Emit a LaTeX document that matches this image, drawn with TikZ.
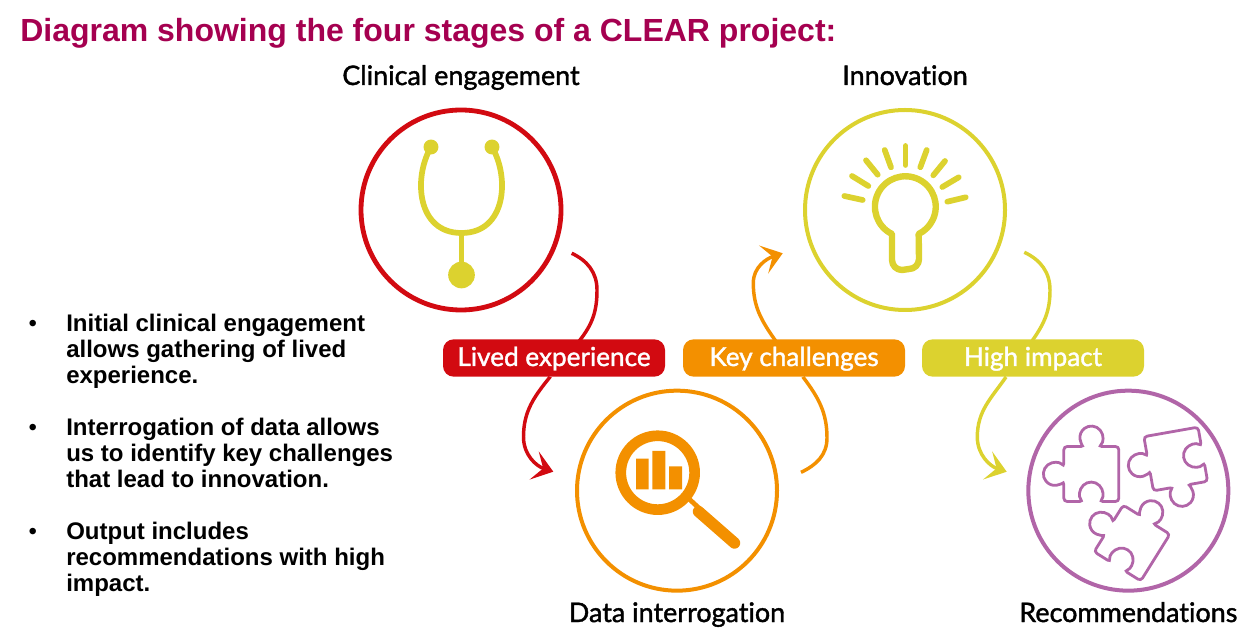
\documentclass[tikz,border=0pt]{standalone}
\usepackage{fontspec}
\setmainfont{Liberation Sans}
\newfontfamily\labelfont[FakeBold=1.5,Ligatures=NoCommon]{Lato}
\usetikzlibrary{arrows.meta,positioning,backgrounds}
\definecolor{cred}{HTML}{D20A11}
\definecolor{corange}{HTML}{F39000}
\definecolor{cyellow}{HTML}{DCD22F}
\definecolor{cpurple}{HTML}{B165A8}
\definecolor{ctitle}{HTML}{A50050}
\tikzset{>=latex}

\begin{document}
\begin{tikzpicture}[x=0.75pt,y=0.75pt,on grid,
	stage/.style={circle, draw, line width=3pt, minimum size=150pt, inner sep=0pt},
	stagename/.style={font=\labelfont\fontsize{20.2}{22}\selectfont, inner sep=0pt},
	pill/.style={rounded corners=8pt, minimum width=166.5pt, minimum height=28pt, inner sep=0pt, text=white, text height=12pt, text depth=0pt, font=\labelfont\fontsize{19.6}{22}\selectfont},
	flow/.style={line width=2.6pt, -{Stealth[length=15pt,width=22pt,inset=7pt]}},
	icon/.style={line width=4.3pt, line cap=round, draw=cyellow},
	bullettext/.style={font=\bfseries\fontsize{18}{19.5}\selectfont, align=left, anchor=north west, inner sep=0pt},
	pics/piece/.style={code={
		\draw[line width=2.1pt, draw=cpurple, rounded corners=2.5pt]
			(27.5,-27.5) -- (27.5,27.5) -- (7.2,27.5)
			arc[start angle=-51.5, end angle=231.5, radius=8.6pt]
			-- (-27.5,27.5) -- (-27.5,7.2)
			arc[start angle=38.5, end angle=321.5, radius=8.6pt]
			-- (-27.5,-27.5) -- (-8.3,-27.5)
			arc[start angle=224, end angle=-44, radius=8.6pt]
			-- cycle;
	}}]
	\useasboundingbox (0,0) rectangle (1237,628);

	\node[anchor=base west, inner sep=0pt, text=ctitle, font=\bfseries\fontsize{24}{26}\selectfont] (title) at (20,586) {Diagram showing the four stages of a CLEAR project:};

	% the four stages
	\node[stage, draw=cred, line width=3.6pt] (clinical) at (461,418) {};
	\node[stage, draw=cyellow] (innovation) [right=333pt of clinical] {};
	\node[stage, draw=corange] (data) [below right=210.5pt and 162pt of clinical] {};
	\node[stage, draw=cpurple] (recommend) [right=338.5pt of data] {};

	\node[stagename] (clinicalname) [above=93.75pt of clinical, anchor=base] {Clinical engagement};
	\node[stagename] (innovationname) [above=93.75pt of innovation, anchor=base] {Innovation};
	\node[stagename] (dataname) [below=98.5pt of data, anchor=base] {Data interrogation};
	\node[stagename] (recommendname) [below=98.5pt of recommend, anchor=base] {Recommendations};

	\node[pill, fill=cred] (lived) at (554,270) {Lived experience};
	\node[pill, fill=corange] (challenges) at (794,270) {Key challenges};
	\node[pill, fill=cyellow] (impact) at (1033,270) {High impact};

	% stethoscope
	\coordinate (earl) at (431,481);
	\coordinate (earr) at (492,481);
	\coordinate (bowl) at (461.5,395);
	\coordinate (chest) at (461.5,353);
	\draw[icon, line cap=butt] (earl) .. controls (413,450) and (417,395) .. (bowl) .. controls (506,395) and (510,450) .. (earr);
	\draw[icon, line cap=butt] (bowl) -- (chest);
	\fill[cyellow] (earl) circle (5.6pt) (earr) circle (5.6pt) (chest) circle (10pt);

	% bulb
	\draw[icon, line width=4.8pt, line cap=butt, line join=round]
		(892,394) arc[start angle=244, end angle=-64, radius=22.8pt]
		-- (919,369) arc[start angle=0, end angle=-90, radius=7.5pt] -- (902,358) arc[start angle=-90, end angle=-180, radius=7.5pt] -- cycle;
	\foreach \xa/\ya/\xb/\yb in {905.5/482/905.5/463, 884.7/478/891/460.7, 926.7/478/920.3/460.7, 866/467.7/877.7/453.3, 945/467/933.3/452.7, 852/452/868.3/442, 958.7/450.7/942.3/441, 844.3/432/862.7/428, 965.7/430.7/947.3/426.3}
		\draw[icon] (\xa,\ya) -- (\xb,\yb);

	% magnifier
	\draw[corange, line width=8pt] (657.7,155.3) circle (27.7pt);
	\fill[corange] (636,138.7) rectangle (648.7,169.3) (652.3,138.7) rectangle (665.3,177) (669,138.7) rectangle (682,161.7);
	\draw[corange, line width=3.6pt] (688,130) -- (700,119);
	\draw[corange, line width=8.6pt, line cap=round] (698.5,116.5) -- (734.5,85);

	% puzzle pieces
	\pic at (1091.3,154) {piece};
	\pic[rotate=100] at (1175.7,169) {piece};
	\pic[rotate=-32] at (1132,85) {piece};

	% connectors, behind the labels
	\begin{pgfonlayer}{background}
		\draw[flow, draw=cred] (571.7,374.7) coordinate (reda) to[out=-25,in=90] (597,338) coordinate (redb) to[out=-90,in=52] (580,288) coordinate (redc) -- (lived) -- (550,251) coordinate (redd) to[out=-129,in=90] (523.5,191) coordinate (rede) to[out=-90,in=162] (553.3,156.3) coordinate (redf);
		\draw[flow, draw=corange] (801,155.7) coordinate (orangea) to[out=25,in=-90] (827,190) coordinate (orangeb) to[out=90,in=-53] (803,251) coordinate (orangec) -- (challenges) -- (775,288) coordinate (oranged) to[out=125,in=-90] (753.3,345) coordinate (orangee) to[out=90,in=198] (782.7,374.7) coordinate (orangef);
		\draw[flow, draw=cyellow] (1024.3,375.7) coordinate (yellowa) to[out=-25,in=90] (1050,338) coordinate (yellowb) to[out=-90,in=55] (1032.7,288) coordinate (yellowc) -- (impact) -- (1006,251) coordinate (yellowd) to[out=-125,in=90] (977.3,191) coordinate (yellowe) to[out=-90,in=162] (1006.7,156.3) coordinate (yellowf);
	\end{pgfonlayer}

	% bullet points
	\node[bullettext] (pointa) at (66,314) {\llap{\mdseries\textbullet\hspace{22pt}}Initial clinical engagement\\allows gathering of lived\\experience.};
	\node[bullettext] (pointb) [below=78pt of pointa.north west, anchor=north west] {\llap{\mdseries\textbullet\hspace{22pt}}Interrogation of data allows\\us to identify key challenges\\that lead to innovation.};
	\node[bullettext] (pointc) [below=78pt of pointb.north west, anchor=north west] {\llap{\mdseries\textbullet\hspace{22pt}}Output includes\\recommendations with high\\impact.};
\end{tikzpicture}
\end{document}
